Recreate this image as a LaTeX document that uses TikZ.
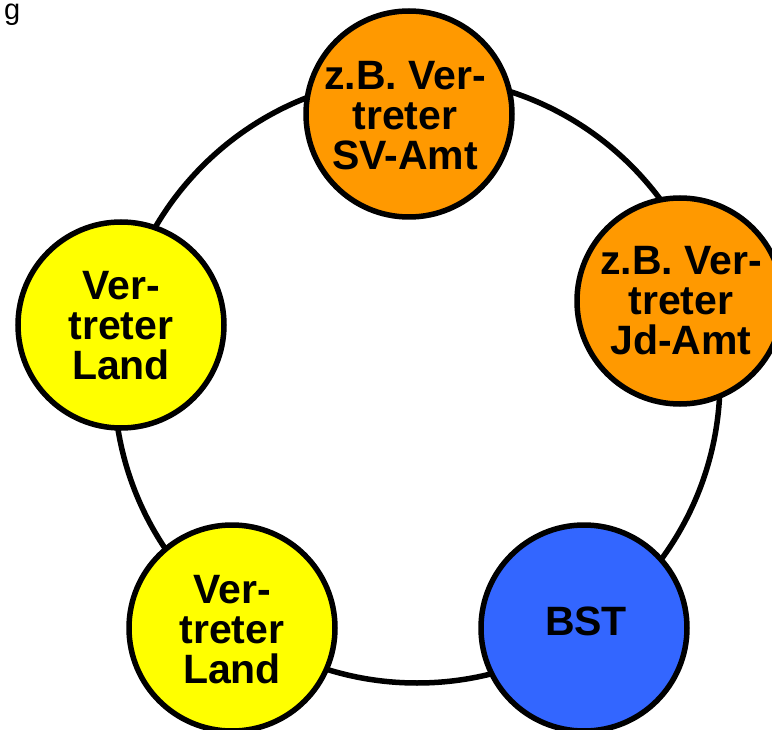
\documentclass[tikz,border=0pt]{standalone}
\usepackage{fontspec}
\setmainfont{Liberation Sans}
\definecolor{orng}{RGB}{255,153,0}
\definecolor{yel}{RGB}{255,255,0}
\definecolor{blu}{RGB}{51,102,255}
\begin{document}
\begin{tikzpicture}[x=1pt,y=-1pt,
  member/.style={circle, draw=black, line width=5.5pt, minimum size=206pt, inner sep=0pt},
  lbl/.style={align=center, inner sep=0pt, font=\bfseries\fontsize{41}{40}\selectfont},
  ring/.style={draw=black, line width=5.5pt}]
\useasboundingbox (0,0) rectangle (772,730);
\coordinate (rc) at (417,380);
\draw[ring] (rc) circle[radius=303pt];
\node[member, fill=orng] (sv) at (409,114) {};
\node[member, fill=orng] (jd) at (680,301) {};
\node[member, fill=blu] (bst) at (584,628) {};
\node[member, fill=yel] (land2) at (232,628) {};
\node[member, fill=yel] (land1) at (121,325) {};
\node[lbl] (svt) at (405,116) {z.B. Ver-\\treter\\SV-Amt};
\node[lbl] (jdt) at (681,301) {z.B. Ver-\\treter\\Jd-Amt};
\node[lbl] (bstt) at (586,621) {BST};
\node[lbl] (land2t) at (232,630) {Ver-\\treter\\Land};
\node[lbl] (land1t) at (121,326) {Ver-\\treter\\Land};
\node[anchor=base west, inner sep=0pt, font=\fontsize{29}{30}\selectfont] (g) at (4,20) {g};
\end{tikzpicture}
\end{document}
